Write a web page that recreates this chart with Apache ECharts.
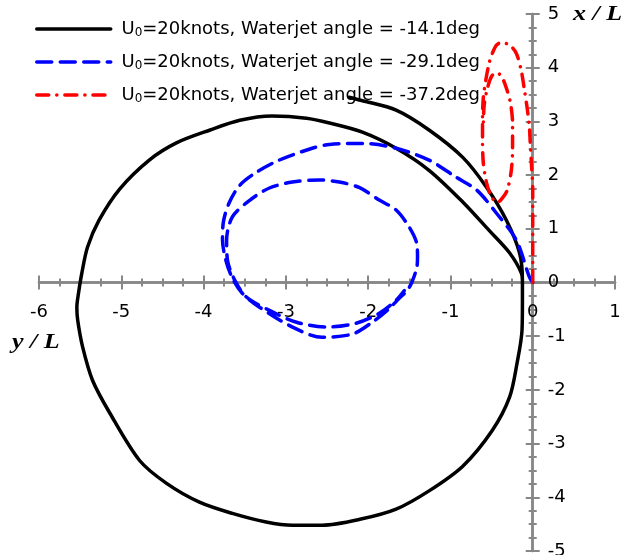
<!DOCTYPE html>
<html>
<head>
<meta charset="utf-8">
<title>Turning circle trajectories</title>
<script src="https://cdn.jsdelivr.net/npm/echarts@6/dist/echarts.min.js"></script>
<style>
  html, body { margin: 0; padding: 0; background: #fff; }
  #chart { width: 637px; height: 555px; }
</style>
</head>
<body>
<div id="chart"></div>
<script>
// Ship tracks, each point is [y/L, x/L]
const track141 = [
  [-0.125, 0.0], [-0.137, 0.17], [-0.28, 0.55], [-0.53, 0.97], [-0.85, 1.50],
  [-1.26, 2.09], [-1.66, 2.50], [-2.07, 2.80], [-2.47, 2.97], [-2.75, 3.06],
  [-3.17, 3.10], [-3.56, 3.02], [-3.92, 2.84], [-4.33, 2.60],
  [-4.66, 2.28], [-5.02, 1.74], [-5.27, 1.16], [-5.41, 0.66], [-5.48, 0.17],
  [-5.52, -0.20], [-5.54, -0.46], [-5.53, -0.70], [-5.47, -1.20], [-5.35, -1.82],
  [-5.14, -2.43], [-4.78, -3.31], [-4.45, -3.74], [-4.05, -4.09], [-3.65, -4.30],
  [-3.24, -4.46], [-2.92, -4.52], [-2.56, -4.52], [-2.10, -4.41], [-1.66, -4.22],
  [-1.26, -3.88], [-0.85, -3.42], [-0.49, -2.75], [-0.28, -2.13], [-0.19, -1.50],
  [-0.13, -0.89], [-0.125, -0.33], [-0.125, 0.04], [-0.16, 0.55], [-0.32, 1.16],
  [-0.56, 1.77], [-0.85, 2.33], [-1.26, 2.84], [-1.66, 3.21], [-2.08, 3.39],
  [-2.23, 3.45]
];
const track291 = [
  [0.0, 0.0], [-0.04, 0.10], [-0.20, 0.79], [-0.44, 1.29], [-0.68, 1.72],
  [-0.93, 1.96], [-1.26, 2.28], [-1.66, 2.50], [-2.07, 2.59], [-2.47, 2.57],
  [-2.68, 2.50], [-3.08, 2.28], [-3.36, 2.05], [-3.56, 1.81], [-3.69, 1.48],
  [-3.76, 1.12], [-3.77, 0.79], [-3.73, 0.42], [-3.65, 0.08], [-3.53, -0.20],
  [-3.32, -0.46], [-2.92, -0.83], [-2.56, -1.02], [-2.19, -0.96], [-1.95, -0.74],
  [-1.74, -0.48], [-1.62, -0.29], [-1.53, -0.16], [-1.47, 0.0], [-1.41, 0.27],
  [-1.40, 0.47], [-1.41, 0.73], [-1.50, 1.03], [-1.66, 1.35], [-1.86, 1.53],
  [-2.11, 1.77], [-2.35, 1.87], [-2.59, 1.91], [-2.92, 1.87], [-3.20, 1.76],
  [-3.44, 1.53], [-3.65, 1.22], [-3.72, 0.79], [-3.71, 0.42], [-3.62, 0.04],
  [-3.48, -0.27], [-3.20, -0.52], [-2.87, -0.74], [-2.51, -0.83], [-2.15, -0.76],
  [-1.86, -0.57], [-1.66, -0.33], [-1.56, -0.15]
];
const track372 = [
  [0.0, 0.0], [0.0, 0.60], [0.0, 1.25], [0.0, 1.72], [-0.016, 2.22],
  [-0.03, 2.60], [-0.04, 2.89], [-0.064, 3.21], [-0.10, 3.58], [-0.14, 3.95],
  [-0.20, 4.27], [-0.28, 4.42], [-0.38, 4.47], [-0.44, 4.42], [-0.49, 4.27],
  [-0.53, 4.08], [-0.57, 3.77], [-0.60, 3.45], [-0.61, 3.08], [-0.61, 2.65],
  [-0.60, 2.22], [-0.56, 1.85], [-0.50, 1.59], [-0.43, 1.49], [-0.37, 1.57],
  [-0.31, 1.72], [-0.26, 2.09], [-0.245, 2.52], [-0.245, 2.97], [-0.27, 3.34],
  [-0.32, 3.62], [-0.38, 3.84], [-0.44, 3.91], [-0.50, 3.84], [-0.55, 3.62],
  [-0.59, 3.30], [-0.60, 2.93]
];
const seriesNames = [
  'U0=20knots, Waterjet angle = -14.1deg',
  'U0=20knots, Waterjet angle = -29.1deg',
  'U0=20knots, Waterjet angle = -37.2deg'
];
const yOverLRange = [-6, 1];   // horizontal axis
const xOverLRange = [-5, 5];   // vertical axis

const gray = '#878787';
const labelFont = 'DejaVu Sans';
const gridBox = { left: 39, top: 14, width: 576, height: 537 };

// Pixel distance from a grid edge to the zero line of the crossing axis,
// so that both axes cross at the origin with labels travelling with them.
const zeroFromLeft = gridBox.width * (0 - yOverLRange[0]) / (yOverLRange[1] - yOverLRange[0]);
const zeroFromBottom = gridBox.height * (0 - xOverLRange[0]) / (xOverLRange[1] - xOverLRange[0]);

function axisBase(range) {
  return {
    type: 'value',
    min: range[0],
    max: range[1],
    interval: 1,
    splitLine: { show: false },
    axisLine: { show: true, onZero: false, lineStyle: { color: gray, width: 2.5 } },
    axisTick: { show: true, length: 7, lineStyle: { color: gray, width: 2 } },
    minorTick: { show: true, splitNumber: 4, length: 4, lineStyle: { color: gray, width: 2 } }
  };
}

const xAxes = [
  Object.assign(axisBase(yOverLRange), {
    position: 'bottom',
    offset: -zeroFromBottom,
    axisLabel: { color: '#000', fontSize: 18, fontFamily: labelFont, margin: 21 }
  }),
  Object.assign(axisBase(yOverLRange), {
    position: 'top',
    offset: -(gridBox.height - zeroFromBottom),
    axisLabel: { show: false }
  })
];
const yAxes = [
  Object.assign(axisBase(xOverLRange), {
    position: 'left',
    offset: -zeroFromLeft,
    axisLabel: { color: '#000', fontSize: 18, fontFamily: labelFont, inside: true, margin: 15 }
  }),
  Object.assign(axisBase(xOverLRange), {
    position: 'right',
    offset: -(gridBox.width - zeroFromLeft),
    axisLabel: { show: false }
  })
];

const chart = echarts.init(document.getElementById('chart'), null, { renderer: 'canvas' });

chart.setOption({
  animation: false,
  backgroundColor: '#fff',
  grid: Object.assign({ containLabel: false, outerBoundsMode: 'none' }, gridBox),
  xAxis: xAxes,
  yAxis: yAxes,
  legend: {
    orient: 'vertical',
    left: 35,
    top: 19,
    padding: 0,
    itemWidth: 74,
    itemHeight: 20,
    itemGap: 13,
    selectedMode: false,
    data: seriesNames,
    itemStyle: { opacity: 0 },
    lineStyle: { width: 3.5 },
    formatter: function (name) { return ' ' + name.replace('U0', 'U{sub|0}'); },
    textStyle: {
      color: '#000',
      fontSize: 18,
      fontFamily: labelFont,
      lineHeight: 20,
      rich: {
        sub: { fontSize: 12, fontFamily: labelFont, color: '#000', lineHeight: 12, padding: [8, 0, 0, 0] }
      }
    }
  },
  graphic: [
    {
      type: 'text', x: 573, y: 15, scaleX: 1.3, z: 10,
      style: { text: 'x / L', font: 'italic bold 20px "Liberation Serif"', fill: '#000', align: 'left', verticalAlign: 'middle' }
    },
    {
      type: 'text', x: 12, y: 343, scaleX: 1.3, z: 10,
      style: { text: 'y / L', font: 'italic bold 20px "Liberation Serif"', fill: '#000', align: 'left', verticalAlign: 'middle' }
    }
  ],
  series: [
    {
      name: seriesNames[0], type: 'line', data: track141, symbol: 'none', smooth: 0.3,
      lineStyle: { color: '#000', width: 3.5, cap: 'round', join: 'round' },
      itemStyle: { color: '#000' }
    },
    {
      name: seriesNames[1], type: 'line', data: track291, symbol: 'none', smooth: 0.3,
      lineStyle: { color: '#0000ff', width: 3.5, type: [15, 8.5], cap: 'round', join: 'round' },
      itemStyle: { color: '#0000ff' }
    },
    {
      name: seriesNames[2], type: 'line', data: track372, symbol: 'none', smooth: 0.3,
      lineStyle: { color: '#ff0000', width: 3.5, type: [12, 8, 0.1, 8], cap: 'round', join: 'round' },
      itemStyle: { color: '#ff0000' }
    }
  ]
});
</script>
</body>
</html>
